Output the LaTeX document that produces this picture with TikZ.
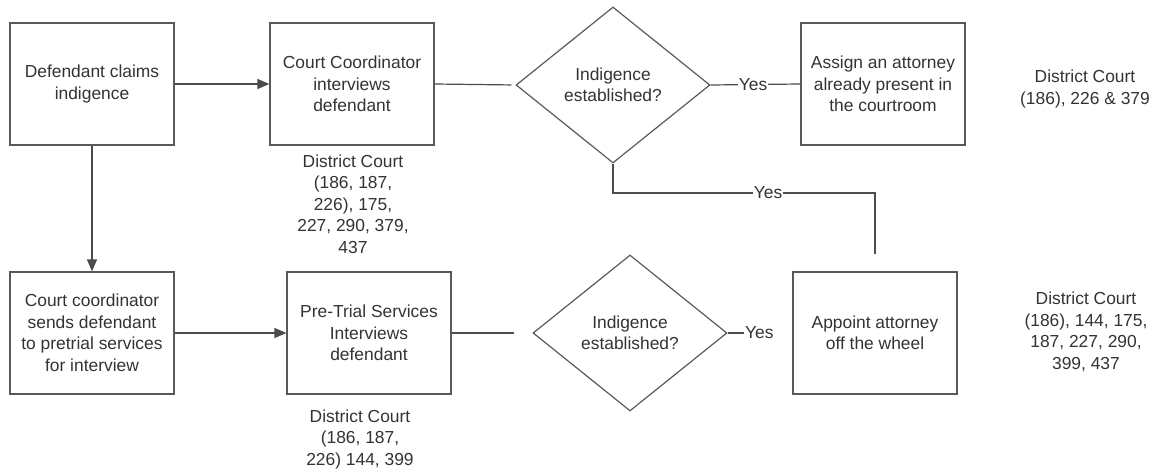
\documentclass[tikz,border=0pt]{standalone}
\usepackage{fontspec}
\setmainfont{Liberation Sans}
\usetikzlibrary{shapes.geometric,arrows.meta}
\begin{document}
\begin{tikzpicture}[x=1pt,y=-1pt,
  every node/.style={font=\fontsize{17.4}{21.5}\selectfont, text=black!80},
  box/.style={draw=black!65, line width=1.2pt, minimum width=164pt, minimum height=122pt, align=center, inner sep=2pt},
  dec/.style={draw=black!65, line width=1.2pt, shape=diamond, minimum width=194pt, minimum height=156pt, align=center, inner sep=0pt},
  conn/.style={draw=black!70, line width=1.2pt},
  arr/.style={conn, -{Triangle[length=12pt,width=10pt]}},
  yes/.style={fill=white, inner sep=1pt},
  note/.style={align=center}]
\useasboundingbox (0,0) rectangle (1163,473);

\node[box] (A) at (92,84) {Defendant claims\\indigence};
\node[box] (B) at (352,84) {Court Coordinator\\interviews\\defendant};
\node[dec] (d1) at (613,85) {Indigence\\established?};
\node[box] (C) at (883,84) {Assign an attorney\\already present in\\the courtroom};
\node[note] (nC) at (1085,89) {District Court\\(186), 226 \& 379};

\node[box] (E) at (92,333) {Court coordinator\\sends defendant\\to pretrial services\\for interview};
\node[box] (F) at (369,333) {Pre-Trial Services\\Interviews\\defendant};
\node[dec] (d2) at (630,333) {Indigence\\established?};
\node[box] (D) at (875,333) {Appoint attorney\\off the wheel};
\node[note] (nD) at (1086,332) {District Court\\(186), 144, 175,\\187, 227, 290,\\399, 437};

\node[note] (nB) at (353,204) {District Court\\(186, 187,\\226), 175,\\227, 290, 379,\\437};
\node[note] (nF) at (360,439) {District Court\\(186, 187,\\226) 144, 399};

\draw[arr] (A.east) -- (B.west);
\draw[arr] (A.south) -- (E.north);
\draw[arr] (E.east) -- (F.west);
\draw[conn, shorten >=4pt] (B.east) -- (d1.west);
\draw[conn, shorten >=18pt] (F.east) -- (d2.west);

\draw[conn] (d1.east) -- (C.west);
\node[yes] (y1) at (753,85) {Yes};

\coordinate (turn) at (875,193);
\draw[conn] (d1.south) |- (turn) -- ([yshift=17pt]D.north);
\node[yes] (y2) at (768,193) {Yes};

\node[inner sep=1pt, anchor=west] (y3) at (744,333) {Yes};
\draw[conn] (d2.east) -- (y3.west);
\end{tikzpicture}
\end{document}
